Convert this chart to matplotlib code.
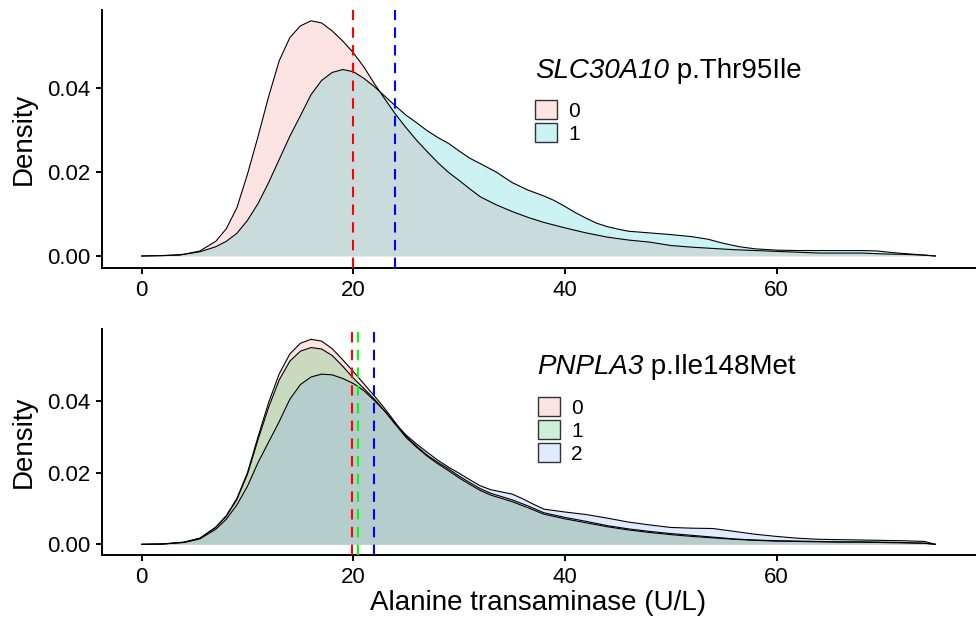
import matplotlib
matplotlib.use("Agg")
import matplotlib.pyplot as plt
import matplotlib.patches as mpatches
from matplotlib.colors import to_rgba

plt.rcParams.update({
    "font.family":    ["Liberation Sans", "DejaVu Sans"],
    "axes.linewidth": 1.4,
})

# ── Densités : panneau SLC30A10 ────────────────────────────
x_top = [0, 2, 3.6, 5.5, 7, 8, 9, 10, 11, 12, 13, 14, 15, 16, 17, 18, 19,
         20, 21, 22, 23, 24, 25, 26, 27, 28, 29, 30, 31, 32, 33.5, 35, 36.5,
         38, 40, 42, 44, 46, 48, 50, 52, 54, 56, 58, 60, 62, 64, 66, 68, 70,
         72, 74, 75]
slc_0 = [0, 0.0001, 0.0002, 0.0012, 0.0035, 0.0065, 0.0115, 0.0195, 0.0285,
         0.0380, 0.0465, 0.0520, 0.0548, 0.0560, 0.0555, 0.0536, 0.0512,
         0.0484, 0.0450, 0.0410, 0.0373, 0.0337, 0.0305, 0.0275, 0.0248,
         0.0222, 0.0199, 0.0180, 0.0160, 0.0141, 0.0122, 0.0106, 0.0092,
         0.0080, 0.0067, 0.0055, 0.0045, 0.0038, 0.0033, 0.0025, 0.0021,
         0.0018, 0.0015, 0.0013, 0.0011, 0.0009, 0.0007, 0.0007, 0.0007,
         0.0005, 0.0004, 0.0002, 0]

x_top1 = [0, 2, 4, 5.5, 7, 8, 9, 10, 11, 12, 13, 14, 15, 16, 17, 18, 19, 20,
          21, 22, 23, 24, 25, 26, 27, 28, 29, 30, 31, 32, 33.5, 35, 36.5, 38,
          39, 40, 41, 42, 43, 44, 45, 46, 48, 50, 52, 53.5, 55, 56.5, 58, 60,
          62, 64, 66, 68, 69.5, 71, 73, 75]
slc_1 = [0, 0.0001, 0.0004, 0.0010, 0.0022, 0.0035, 0.0054, 0.0085, 0.0125,
         0.0175, 0.0230, 0.0285, 0.0334, 0.0384, 0.0418, 0.0437, 0.0444,
         0.0439, 0.0423, 0.0403, 0.0380, 0.0357, 0.0335, 0.0317, 0.0298,
         0.0282, 0.0268, 0.0250, 0.0233, 0.0220, 0.0200, 0.0175, 0.0157,
         0.0143, 0.0132, 0.0118, 0.0103, 0.0090, 0.0078, 0.0070, 0.0064,
         0.0059, 0.0055, 0.0051, 0.0046, 0.0040, 0.0030, 0.0022, 0.0017,
         0.0014, 0.0013, 0.0013, 0.0013, 0.0013, 0.0012, 0.0008, 0.0004, 0]

# ── Densités : panneau PNPLA3 ──────────────────────────────
x_bot = [0, 2, 4, 5.5, 7, 8, 9, 10, 11, 12, 13, 14, 15, 16, 17, 18, 19, 20,
         21, 22, 23, 24, 25, 26, 27, 28, 29, 30, 31, 32, 33, 34, 35, 36.5,
         38, 40, 42, 44, 46, 48, 50, 52, 54, 56, 58, 60, 62, 64, 66, 68, 70,
         72, 74, 75]
pnp_0 = [0, 0.0001, 0.0006, 0.0017, 0.0048, 0.0080, 0.0128, 0.0200, 0.0300,
         0.0395, 0.0475, 0.0530, 0.0560, 0.0571, 0.0566, 0.0545, 0.0514,
         0.0481, 0.0447, 0.0413, 0.0377, 0.0338, 0.0300, 0.0273, 0.0248,
         0.0228, 0.0210, 0.0190, 0.0172, 0.0155, 0.0142, 0.0133, 0.0124,
         0.0107, 0.0088, 0.0075, 0.0064, 0.0052, 0.0043, 0.0036, 0.0030,
         0.0025, 0.0020, 0.0015, 0.0012, 0.0010, 0.0009, 0.0008, 0.0007,
         0.0007, 0.0006, 0.0005, 0.0003, 0]
pnp_1 = [0, 0.0001, 0.0006, 0.0017, 0.0047, 0.0078, 0.0125, 0.0195, 0.0292,
         0.0382, 0.0458, 0.0510, 0.0538, 0.0548, 0.0544, 0.0526, 0.0496,
         0.0463, 0.0434, 0.0404, 0.0370, 0.0333, 0.0297, 0.0270, 0.0245,
         0.0224, 0.0205, 0.0185, 0.0167, 0.0150, 0.0137, 0.0128, 0.0119,
         0.0102, 0.0084, 0.0071, 0.0060, 0.0049, 0.0040, 0.0033, 0.0027,
         0.0022, 0.0018, 0.0014, 0.0011, 0.0009, 0.0008, 0.0007, 0.0006,
         0.0006, 0.0005, 0.0004, 0.0003, 0]

x_bot2 = [0, 2, 4, 5.5, 7, 8, 9, 10, 11, 12, 13, 14, 15, 16, 17, 18, 19, 20,
          21, 22, 23, 24, 25, 26, 27, 28, 29, 30, 31, 32, 33, 34, 35, 36, 37,
          38, 40, 42, 44, 46, 48, 50, 52, 54, 56, 58, 60, 62, 64, 66, 68, 70,
          72, 74, 75]
pnp_2 = [0, 0.0001, 0.0005, 0.0015, 0.0042, 0.0070, 0.0110, 0.0162, 0.0228,
         0.0285, 0.0342, 0.0404, 0.0445, 0.0466, 0.0474, 0.0472, 0.0462,
         0.0448, 0.0428, 0.0400, 0.0370, 0.0335, 0.0304, 0.0279, 0.0256,
         0.0234, 0.0215, 0.0198, 0.0180, 0.0163, 0.0152, 0.0146, 0.0140,
         0.0127, 0.0112, 0.0098, 0.0090, 0.0083, 0.0073, 0.0062, 0.0054,
         0.0047, 0.0045, 0.0044, 0.0036, 0.0028, 0.0022, 0.0017, 0.0014,
         0.0013, 0.0012, 0.0011, 0.0010, 0.0008, 0]

# Moyennes (lignes verticales)
slc_means = [20.0, 23.9]
pnp_means = [19.9, 20.4, 21.95]

GG2 = ["#F8766D", "#00BFC4"]
GG3 = ["#F8766D", "#00BA38", "#619CFF"]
VLINE2 = ["#FF0000", "#0000FF"]
VLINE3 = ["#FF0000", "#00FF00", "#0000FF"]

fig = plt.figure(figsize=(9.76, 6.23), dpi=100)
ax1 = fig.add_axes([0.1045, 0.5698, 0.8945, 0.4141])
ax2 = fig.add_axes([0.1045, 0.1091, 0.8945, 0.3628])


def density_panel(ax, curves, colors, means, vcolors, gene, variant, labels,
                  ylim, title_xy, leg_xy):
    for (xs, ys), c in zip(curves, colors):
        ax.fill_between(xs, ys, 0, color=c, alpha=0.2, linewidth=0, zorder=2)
        ax.plot(xs, ys, color="black", linewidth=0.8, zorder=3)
    for m, c in zip(means, vcolors):
        ax.axvline(m, color=c, linewidth=1.5, dashes=(5, 3.5), zorder=4)

    ax.set_xlim(-3.75, 78.75)
    ax.set_ylim(*ylim)
    ax.set_xticks([0, 20, 40, 60])
    ax.set_yticks([0, 0.02, 0.04])
    ax.set_yticklabels(["0.00", "0.02", "0.04"])
    ax.tick_params(labelsize=16, length=4, width=1.4, pad=4.5,
                   colors="black")
    for s in ["top", "right"]:
        ax.spines[s].set_visible(False)
    ax.set_ylabel("Density", fontsize=20)
    ax.yaxis.set_label_coords(-0.075, 0.5)

    # titre de légende : gène en italique + variant
    t = ax.text(title_xy[0], title_xy[1], gene, transform=ax.transAxes,
                fontsize=20, style="italic", ha="left", va="baseline")
    ax.annotate(" " + variant, xy=(1, 0), xycoords=t, fontsize=20,
                ha="left", va="bottom")

    handles = [mpatches.Patch(facecolor=to_rgba(c, 0.2),
                              edgecolor="#333333", linewidth=1.0,
                              label=l) for c, l in zip(colors, labels)]
    ax.legend(handles=handles, loc="upper left", bbox_to_anchor=leg_xy,
              frameon=False, fontsize=15, borderpad=0, borderaxespad=0,
              handlelength=1.05, handleheight=1.05, labelspacing=0.1,
              handletextpad=0.55)


density_panel(ax1, [(x_top, slc_0), (x_top1, slc_1)], GG2,
              slc_means, VLINE2, "SLC30A10", "p.Thr95Ile",
              ["0", "1"], (-0.00286, 0.05857), (0.496, 0.736), (0.496, 0.651))
density_panel(ax2, [(x_bot, pnp_0), (x_bot, pnp_1), (x_bot2, pnp_2)], GG3,
              pnp_means, VLINE3, "PNPLA3", "p.Ile148Met",
              ["0", "1", "2"], (-0.00298, 0.05997), (0.498, 0.801),
              (0.499, 0.699))

ax2.set_xlabel("Alanine transaminase (U/L)", fontsize=20)
ax2.xaxis.set_label_coords(0.5, -0.155)

fig.savefig("out.png", dpi=100, facecolor="white")
